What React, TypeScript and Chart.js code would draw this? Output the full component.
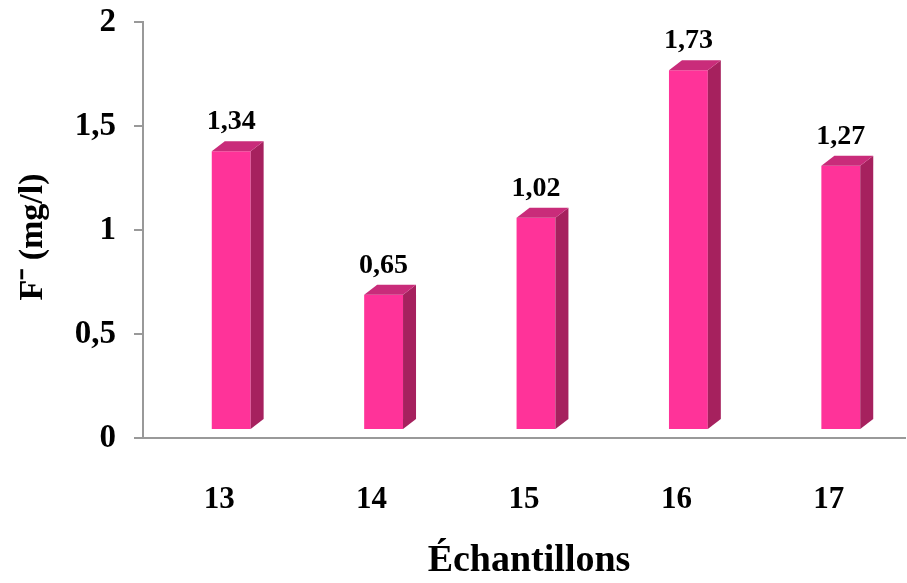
import React, { useEffect, useRef } from "react";
import { Chart, registerables } from "chart.js";

Chart.register(...registerables);

const categories = ["13", "14", "15", "16", "17"];
const values = [1.34, 0.65, 1.02, 1.73, 1.27];
const valueLabels = ["1,34", "0,65", "1,02", "1,73", "1,27"];
const yTickValues = [0, 0.5, 1, 1.5, 2];
const yTickLabels = ["0", "0,5", "1", "1,5", "2"];
const yTitle = "F\u207B (mg/l)";
const xTitle = "Échantillons";

const FRONT = "#FF3399";
const SIDE = "#A6215E";
const TOP = "#C92C7A";
const SHIFT_X = 12;
const SHIFT_Y = 8;
const DEPTH_X = 13;
const DEPTH_Y = 10;
const SERIF = "'Liberation Serif', 'Times New Roman', serif";

const bar3d = {
  id: "bar3d",
  beforeDatasetsDraw(chart: any) {
    chart.ctx.save();
    chart.ctx.translate(SHIFT_X, -SHIFT_Y);
  },
  afterDatasetsDraw(chart: any) {
    const ctx = chart.ctx;
    const meta = chart.getDatasetMeta(0);
    meta.data.forEach((bar: any, i: number) => {
      const { x, y, base, width } = bar.getProps(["x", "y", "base", "width"], true);
      const l = x - width / 2;
      const r = x + width / 2;
      ctx.fillStyle = SIDE;
      ctx.beginPath();
      ctx.moveTo(r, y);
      ctx.lineTo(r + DEPTH_X, y - DEPTH_Y);
      ctx.lineTo(r + DEPTH_X, base - DEPTH_Y);
      ctx.lineTo(r, base);
      ctx.closePath();
      ctx.fill();
      ctx.fillStyle = TOP;
      ctx.beginPath();
      ctx.moveTo(l, y);
      ctx.lineTo(l + DEPTH_X, y - DEPTH_Y);
      ctx.lineTo(r + DEPTH_X, y - DEPTH_Y);
      ctx.lineTo(r, y);
      ctx.closePath();
      ctx.fill();
      ctx.fillStyle = "#000";
      ctx.font = `bold 28px ${SERIF}`;
      ctx.textAlign = "center";
      ctx.textBaseline = "alphabetic";
      ctx.fillText(valueLabels[i], x, y - 22);
    });
    ctx.restore();
  },
  afterDraw(chart: any) {
    const ctx = chart.ctx;
    ctx.save();
    ctx.fillStyle = "#000";
    ctx.textAlign = "center";
    ctx.textBaseline = "middle";
    ctx.font = `bold 38px ${SERIF}`;
    ctx.fillText(xTitle, 529, 561);
    ctx.translate(33, 237);
    ctx.rotate(-Math.PI / 2);
    ctx.font = `bold 34px ${SERIF}`;
    ctx.fillText(yTitle, 0, 0);
    ctx.restore();
  },
};

export default function App() {
  const ref = useRef<HTMLCanvasElement>(null);
  useEffect(() => {
    const chart = new Chart(ref.current!, {
      type: "bar",
      data: {
        labels: categories,
        datasets: [
          {
            data: values,
            backgroundColor: FRONT,
            borderWidth: 0,
            barPercentage: 0.5,
            categoryPercentage: 0.51,
            clip: false as any,
          },
        ],
      },
      options: {
        animation: false,
        responsive: true,
        maintainAspectRatio: false,
        layout: { padding: { left: 0, top: 22, right: 2, bottom: 0 } },
        plugins: { legend: { display: false }, tooltip: { enabled: false } },
        scales: {
          x: {
            afterFit: (s: any) => {
              s.height = 145;
              s.paddingLeft = 0;
              s.paddingRight = 0;
            },
            grid: { display: false },
            border: { display: true, color: "#999", width: 2 },
            ticks: {
              color: "#000",
              padding: 35,
              font: { family: SERIF, size: 31, weight: "bold" },
            },
          },
          y: {
            min: 0,
            max: 2,
            afterFit: (s: any) => {
              s.width = 143;
              s.paddingTop = 0;
              s.paddingBottom = 0;
            },
            afterBuildTicks: (s: any) => {
              s.ticks = yTickValues.map((v) => ({ value: v }));
            },
            grid: { drawOnChartArea: false, drawTicks: true, tickLength: 9, color: "#999", lineWidth: 2 },
            border: { display: true, color: "#999", width: 2 },
            ticks: {
              color: "#000",
              padding: 18,
              font: { family: SERIF, size: 33, weight: "bold" },
              callback: (v: any) => yTickLabels[yTickValues.indexOf(Number(v))] ?? "",
            },
          },
        },
      },
      plugins: [bar3d],
    });
    return () => chart.destroy();
  }, []);
  return (
    <div style={{ position: "fixed", left: 0, top: 0, width: 907, height: 583, background: "#fff" }}>
      <canvas ref={ref} />
    </div>
  );
}
